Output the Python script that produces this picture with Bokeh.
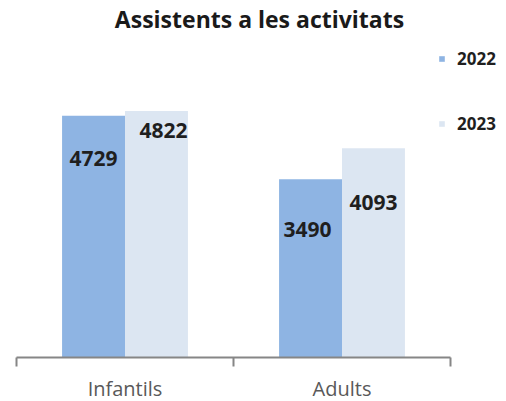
import numpy as np
from bokeh.plotting import figure
from bokeh.models import ColumnDataSource, Range1d, FixedTicker, Legend, LegendItem
from bokeh.core.properties import value
from bokeh.embed import file_html
from bokeh.resources import INLINE

# ---- data ----
title_text = "Assistents a les activitats"
categories = ["Infantils", "Adults"]
series = ["2022", "2023"]
v2022 = [4729, 3490]
v2023 = [4822, 4093]

# ---- styles ----
colors = ["#8EB4E3", "#DCE6F2"]
label_dx = [[0, -3], [7, 0]]      # px, per series per category
label_dy = [[43, 50], [19, 54]]   # px down from bar top
FONT = "Open Sans"

scale = 0.0511          # px per unit
frame_h = 323
frame_w = 486
cat_w = 434             # pixels covered by the categories
y_end = frame_h / scale
x_end = len(categories) * frame_w / cat_w

p = figure(frame_width=frame_w, frame_height=frame_h,
           x_range=Range1d(0, x_end), y_range=Range1d(0, y_end),
           output_backend="svg", toolbar_location=None,
           min_border_left=16, min_border_right=4, min_border_top=0, min_border_bottom=42)
p.title.text = title_text
p.title.align = "center"
p.title.text_font = FONT
p.title.text_font_size = "23px"
p.title.text_font_style = "bold"
p.title.text_color = "#1A1A1A"
p.title.standoff = 0
p.title.offset = 0

p.outline_line_color = None
p.grid.grid_line_color = None
p.yaxis.visible = False
p.background_fill_color = "white"
p.border_fill_color = "white"

centers = np.arange(len(categories)) + 0.5
bw = 0.29
offsets = [-bw / 2, bw / 2]
renderers = []
for s, vals, col, off, dx, dy in zip(series, [v2022, v2023], colors, offsets, label_dx, label_dy):
    src = ColumnDataSource(dict(x=centers + off, top=vals, lab=[str(v) for v in vals], dx=dx, dy=dy))
    r = p.vbar(x="x", top="top", width=bw, source=src, fill_color=col, line_color=None)
    renderers.append(r)
    p.text(x="x", y="top", text="lab", x_offset="dx", y_offset="dy", source=src,
           text_align="center", text_baseline="middle",
           text_font=value(FONT), text_font_size="21px", text_font_style="bold",
           text_color="#1F1F1F")

ax = p.xaxis[0]
ax.bounds = (0, len(categories))
ax.ticker = FixedTicker(ticks=list(centers), minor_ticks=list(np.arange(len(categories) + 1)))
ax.major_label_overrides = {float(c): cat for c, cat in zip(centers, categories)}
ax.major_tick_out = 0
ax.major_tick_in = 0
ax.minor_tick_out = 9
ax.minor_tick_in = 0
ax.minor_tick_line_color = "#868686"
ax.minor_tick_line_width = 2
ax.axis_line_color = "#868686"
ax.axis_line_width = 2
ax.major_label_text_font = FONT
ax.major_label_text_font_size = "20px"
ax.major_label_text_color = "#595959"
ax.major_label_standoff = 8

legend = Legend(items=[LegendItem(label=s, renderers=[r]) for s, r in zip(series, renderers)],
                location=(422, 222), glyph_width=7, glyph_height=7, label_standoff=12,
                label_height=24, spacing=41, padding=0, margin=0, border_line_color=None,
                background_fill_alpha=0, label_text_font=FONT, label_text_font_size="17px",
                label_text_font_style="bold", label_text_color="#1F1F1F")
p.add_layout(legend, "center")

open("out.html", "w").write(file_html(p, INLINE))
